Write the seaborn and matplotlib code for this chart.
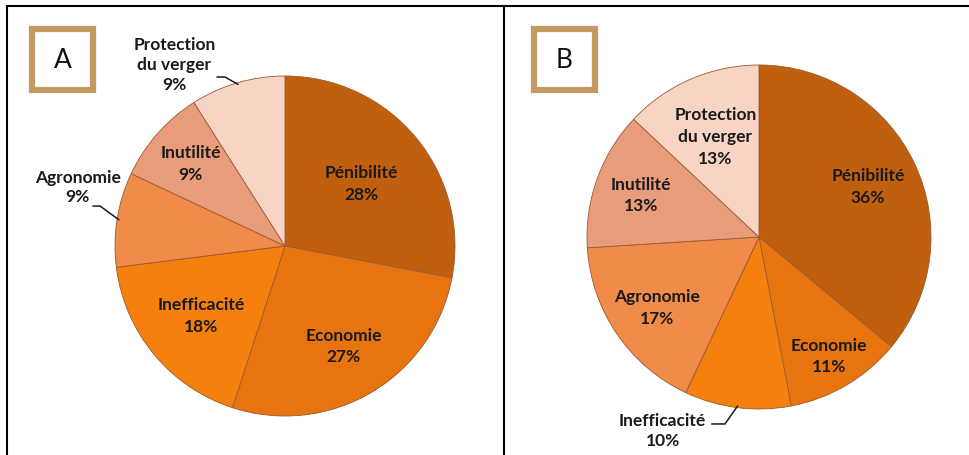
import numpy as np
import matplotlib
matplotlib.use("Agg")
import matplotlib.pyplot as plt
import seaborn as sns
from matplotlib.lines import Line2D
from matplotlib.patches import Rectangle

# =============================================
# données
# =============================================
categories = ["Pénibilité", "Economie", "Inefficacité", "Agronomie", "Inutilité", "Protection\ndu verger"]
values_a = [28, 27, 18, 9, 9, 9]
values_b = [36, 11, 10, 17, 13, 13]
panel_letters = ["A", "B"]

# couleurs des parts (même ordre que categories)
COLORS = ["#c0600f", "#e8740f", "#f5800e", "#f08b4a", "#e99c7b", "#f7d4c4"]

# distance des étiquettes internes (rayon relatif)
LABEL_R_A = [0.58, 0.68, 0.64, None, 0.74, None]
LABEL_R_B = [0.70, 0.80, None, 0.72, 0.73, 0.64]
# étiquettes externes: centre du texte, puis coude du trait (unités de rayon)
OUTSIDE_A = {3: ((-1.22, 0.35), (-1.13, 0.235), (-1.088, 0.235)),
             5: ((-0.65, 1.07), (-0.40, 0.994), (-0.353, 0.994))}
OUTSIDE_B = {2: ((-0.56, -1.12), (-0.275, -1.087), (-0.198, -1.087))}

W, H = 970, 456
sns.set_theme(style="white")
plt.rcParams["font.family"] = ["Lato", "DejaVu Sans"]


def fig_rect(x0, y0, x1, y1):
    # pixels (haut-gauche) -> fraction de figure
    return [x0 / W, 1 - y1 / H, (x1 - x0) / W, (y1 - y0) / H]


def draw_pie(ax, values, label_r, outside):
    wedges, _ = ax.pie(values, colors=COLORS, startangle=90, counterclock=False,
                       radius=1.0,
                       wedgeprops=dict(edgecolor="#9a5a30", linewidth=0.6))
    for i, w in enumerate(wedges):
        mid = np.deg2rad((w.theta1 + w.theta2) / 2)
        txt = f"{categories[i]}\n{values[i]}%"
        if i in outside:
            (tx, ty), (k0x, k0y), (k1x, k1y) = outside[i]
            ex, ey = 0.99 * np.cos(mid), 0.99 * np.sin(mid)
            ax.text(tx, ty, txt, ha="center", va="center", fontsize=12.5,
                    fontweight="bold", color="#1a1a1a", linespacing=1.3)
            ax.plot([k0x, k1x, ex], [k0y, k1y, ey], color="#1a1a1a", lw=1.1,
                    clip_on=False, solid_joinstyle="miter")
        else:
            r = label_r[i]
            ax.text(r * np.cos(mid), r * np.sin(mid), txt, ha="center", va="center",
                    fontsize=12.5, fontweight="bold", color="#1a1a1a", linespacing=1.45)
    ax.set_xlim(-1, 1)
    ax.set_ylim(-1, 1)
    ax.set_aspect("equal")
    ax.axis("off")


fig = plt.figure(figsize=(W / 100, H / 100), dpi=100)
fig.patch.set_facecolor("white")

ax_a = fig.add_axes(fig_rect(115, 77, 455, 417))
draw_pie(ax_a, values_a, LABEL_R_A, OUTSIDE_A)

ax_b = fig.add_axes(fig_rect(587, 66, 931, 410))
draw_pie(ax_b, values_b, LABEL_R_B, OUTSIDE_B)

# cadres du tableau
lw = 1.5
fig.add_artist(Line2D([7 / W, 1], [1 - 7 / H, 1 - 7 / H], color="black", lw=lw))
fig.add_artist(Line2D([7 / W, 7 / W], [0, 1 - 7 / H], color="black", lw=lw))
fig.add_artist(Line2D([504 / W, 504 / W], [0, 1 - 7 / H], color="black", lw=lw))

# boîtes A / B
for letter, x0 in zip(panel_letters, [29, 531]):
    r = fig_rect(x0 + 3, 30, x0 + 64, 91)
    fig.add_artist(Rectangle((r[0], r[1]), r[2], r[3], transform=fig.transFigure,
                             facecolor="white", edgecolor="#c49a62", lw=4.5))
    fig.text(r[0] + r[2] / 2, r[1] + r[3] / 2, letter, ha="center", va="center",
             fontsize=19, color="#111111")

fig.savefig("out.png", dpi=100)
